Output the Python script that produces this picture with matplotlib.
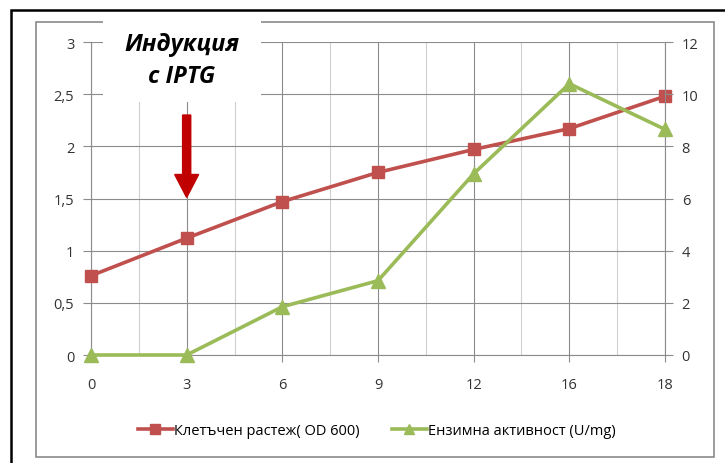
import numpy as np
import matplotlib.pyplot as plt
from matplotlib.patches import Rectangle, FancyArrow
from matplotlib.lines import Line2D

plt.rcParams['font.family'] = ['Open Sans', 'DejaVu Sans']

hours = ['0', '3', '6', '9', '12', '16', '18']
growth_od600 = [0.76, 1.12, 1.47, 1.75, 1.97, 2.17, 2.48]
enzyme_activity = [0.0, 0.0, 1.85, 2.85, 6.95, 10.4, 8.65]

growth_label = 'Клетъчен растеж( OD 600)'
activity_label = 'Ензимна активност (U/mg)'
note_text = 'Индукция\nс IPTG'

red = '#C0504D'
green = '#9BBB59'
grid_major = '#8C8C8C'
grid_minor = '#D0D0D0'

W, H = 725, 464
fig = plt.figure(figsize=(W / 100, H / 100), dpi=100)

# outer frame and chart border, in pixel coordinates
def px_rect(x0, y0, x1, y1, **kw):
    return Rectangle((x0 / W, 1 - y1 / H), (x1 - x0) / W, (y1 - y0) / H,
                     transform=fig.transFigure, fill=False, **kw)

fig.patches.append(px_rect(11, 11, 740, 480, edgecolor='black', linewidth=1.8))
fig.patches.append(px_rect(36, 23, 714, 458, edgecolor='#8A8A8A', linewidth=1.2))

left, right, top, bottom = 91, 665, 43, 356
ax = fig.add_axes([left / W, 1 - bottom / H, (right - left) / W, (bottom - top) / H])
x = np.arange(len(hours))

ax.set_xlim(0, len(hours) - 1)
ax.set_ylim(0, 3)
ax.set_yticks(np.arange(0, 3.01, 0.5))
ax.set_yticklabels(['0', '0,5', '1', '1,5', '2', '2,5', '3'])
ax.set_xticks(x)
ax.set_xticklabels(hours)
ax.set_xticks(x[:-1] + 0.5, minor=True)

ax.grid(True, which='major', color=grid_major, linewidth=0.8)
ax.grid(True, which='minor', axis='x', color=grid_minor, linewidth=0.8)
ax.set_axisbelow(True)
for side in ['top', 'right']:
    ax.spines[side].set_visible(False)
ax.spines['left'].set_color(grid_major)
ax.spines['bottom'].set_color(grid_major)
ax.tick_params(which='major', length=5, color=grid_major, labelsize=10.5,
               labelcolor='#333333', pad=11)
ax.tick_params(which='minor', length=0)
ax.tick_params(axis='y', length=6, pad=6)

ax2 = ax.twinx()
ax2.set_ylim(0, 12)
ax2.set_yticks(np.arange(0, 12.1, 2))
for side in ['top', 'left', 'bottom']:
    ax2.spines[side].set_visible(False)
ax2.spines['right'].set_color(grid_major)
ax2.tick_params(axis='y', length=6, color=grid_major, labelsize=10.5,
                labelcolor='#333333', pad=6)

ax.plot(x, growth_od600, color=red, linewidth=2.6, marker='s', markersize=9,
        clip_on=False, zorder=4)
ax2.plot(x, enzyme_activity, color=green, linewidth=2.6, marker='^', markersize=10,
         clip_on=False, zorder=3)

# white box behind the note, covering grid and border
fig.patches.append(Rectangle((103 / W, 1 - 103 / H), (261 - 103) / W, (103 - 18) / H,
                             transform=fig.transFigure, facecolor='white',
                             edgecolor='none', zorder=5))
fig.text(182 / W, 1 - 61 / H, note_text, ha='center', va='center', fontsize=17,
         fontweight='bold', fontstyle='italic', linespacing=1.4, zorder=6)

# induction arrow at 3 h
ax.add_patch(FancyArrow(1, 2.30, 0, -0.79, width=0.085, head_width=0.25,
                        head_length=0.22, length_includes_head=True,
                        color='#C00000', zorder=5, clip_on=False))

handles = [Line2D([], [], color=red, linewidth=2.6, marker='s', markersize=7),
           Line2D([], [], color=green, linewidth=2.6, marker='^', markersize=7)]
fig.legend(handles, [growth_label, activity_label], loc='center',
           bbox_to_anchor=(377 / W, 1 - 432 / H), ncol=2, frameon=False,
           fontsize=10.5, handlelength=2.4, handletextpad=0.1, columnspacing=2.2)

fig.savefig('out.png', dpi=100)
